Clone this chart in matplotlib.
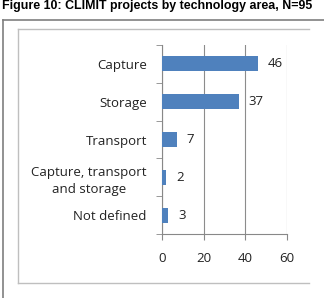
import matplotlib
matplotlib.use("Agg")
import matplotlib.pyplot as plt
from matplotlib.lines import Line2D

categories = ["Capture", "Storage", "Transport", "Capture, transport\nand storage", "Not defined"]
projects = [46, 37, 7, 2, 3]
x_ticks = [0, 20, 40, 60]

W, H = 324, 298
fig = plt.figure(figsize=(W / 100, H / 100), dpi=100)
plt.rcParams["font.family"] = ["Open Sans", "DejaVu Sans"]

# px -> figure fraction helpers
fx = lambda x: x / W
fy = lambda y: 1 - y / H

ax = fig.add_axes([fx(162), fy(234), fx(287) - fx(162), fy(45) - fy(234)])

pos = list(range(len(categories)))
ax.barh(pos, projects, height=0.4, color="#4f81bd", zorder=3)
for p, v in zip(pos, projects):
    ax.annotate(str(v), (v, p), xytext=(7, 0), textcoords="offset points",
                va="center", ha="left", fontsize=9.5, color="#222222")

ax.set_xlim(0, 60)
ax.set_ylim(len(categories) - 0.5, -0.5)
ax.set_xticks(x_ticks)
ax.set_xticklabels([str(t) for t in x_ticks], fontsize=9.5, color="#222222")
ax.set_yticks(pos)
ax.set_yticklabels(categories, fontsize=9.5, linespacing=1.45, color="#222222")
ax.set_yticks([p - 0.5 for p in pos] + [len(pos) - 0.5], minor=True)
ax.tick_params(axis="y", which="major", length=0, pad=11)
ax.tick_params(axis="y", which="minor", length=4, color="#888888")
ax.tick_params(axis="x", length=4, color="#888888", pad=9)
ax.xaxis.grid(True, color="#8c8c8c", lw=0.8, zorder=0)
for s in ["top", "right"]:
    ax.spines[s].set_visible(False)
for s in ["left", "bottom"]:
    ax.spines[s].set_color("#888888")
    ax.spines[s].set_linewidth(0.8)
for lbl in ax.get_yticklabels():
    lbl.set_multialignment("center")

# chart frames
outer = "#7f7f7f"
inner = "#bfbfbf"
fig.add_artist(Line2D([fx(3), fx(324)], [fy(20), fy(20)], color=outer, lw=1.2))
fig.add_artist(Line2D([fx(3), fx(3)], [fy(20), fy(298)], color=outer, lw=1.2))
fig.add_artist(Line2D([fx(18), fx(309)], [fy(29), fy(29)], color=inner, lw=1))
fig.add_artist(Line2D([fx(18), fx(18)], [fy(29), fy(283)], color=inner, lw=1))
fig.add_artist(Line2D([fx(18), fx(309)], [fy(283), fy(283)], color=inner, lw=1))

fig.text(fx(2), fy(8.5), "Figure 10: CLIMIT projects by technology area, N=95",
         family="Liberation Sans", weight="bold", fontsize=8.9, va="baseline")

fig.savefig("out.png", dpi=100)
